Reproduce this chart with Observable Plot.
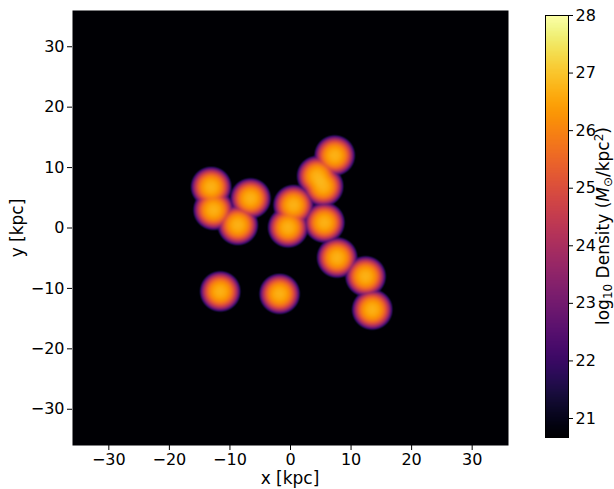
<!DOCTYPE html>
<html><head><meta charset="utf-8">
<script src="https://cdn.jsdelivr.net/npm/d3@7"></script>
<script src="https://cdn.jsdelivr.net/npm/@observablehq/plot@0.6"></script>
<style>
body{margin:0;background:#fff}
#wrap{position:relative;width:614px;height:489px;font-family:"DejaVu Sans",sans-serif}
#wrap > *{position:absolute;top:0}
</style>
</head><body><div id="wrap"></div>
<script>
// Blob (clump) centres, in kpc
const blobX = [-13.1, -12.7, -6.6, -8.7, 0.5, -0.4, 7.3, 4.4, 5.4, 5.6, 7.7, 12.4, 13.5, -11.6, -1.8];
const blobY = [6.8, 3.0, 4.9, 0.5, 3.8, 0.1, 12.0, 8.6, 6.9, 0.9, -4.9, -8.0, -13.5, -10.5, -10.9];
const blobPeak = [26.7, 26.7, 26.7, 26.7, 26.7, 26.7, 26.7, 26.7, 26.7, 26.7, 26.7, 26.7, 26.7, 26.7, 26.7];
const axisTicks = [-30, -20, -10, 0, 10, 20, 30];
const colorTicks = [21, 22, 23, 24, 25, 26, 27, 28];
const extent = [-36, 36];
const colorDomain = [20.67, 28];
const xLabel = "x [kpc]";
const yLabel = "y [kpc]";

const fmt = d => d < 0 ? "\u2212" + Math.abs(d) : String(d);

function logDensity(x, y) {
  let s = 0;
  for (let i = 0; i < blobX.length; i++) {
    const dx = x - blobX[i], dy = y - blobY[i];
    const r2 = dx * dx + dy * dy;
    const f = blobPeak[i] - 0.185 * r2 - 0.0263 * r2 * r2;
    s += Math.pow(10, f - 20);
  }
  return s > 0 ? Math.max(colorDomain[0], Math.log10(s) + 20) : colorDomain[0];
}

const colorScale = {type: "linear", scheme: "inferno", domain: colorDomain, clamp: true};
const baseStyle = {fontFamily: "DejaVu Sans", fontSize: "16px", background: "transparent", color: "black", overflow: "visible"};

const main = Plot.plot({
  width: 520, height: 489,
  marginLeft: 72, marginRight: 12, marginTop: 10, marginBottom: 44,
  style: baseStyle,
  x: {domain: extent, ticks: axisTicks, tickFormat: fmt, tickSize: 5, tickPadding: 3, label: null},
  y: {domain: extent, ticks: axisTicks, tickFormat: fmt, tickSize: 5, tickPadding: 3, label: null},
  color: colorScale,
  marks: [
    Plot.raster({fill: logDensity, x1: extent[0], x2: extent[1], y1: extent[0], y2: extent[1], pixelSize: 1})
  ]
});

const cbar = Plot.plot({
  width: 80, height: 489,
  marginLeft: 5, marginRight: 52, marginTop: 15, marginBottom: 52,
  style: baseStyle,
  x: {domain: [0, 1], axis: null},
  y: {domain: colorDomain, axis: "right", ticks: colorTicks, tickSize: 4, tickPadding: 3, label: null},
  color: colorScale,
  marks: [
    Plot.raster({fill: (x, y) => y, x1: 0, x2: 1, y1: colorDomain[0], y2: colorDomain[1], pixelSize: 1}),
    Plot.frame({stroke: "black", strokeWidth: 1})
  ]
});

const wrap = document.getElementById("wrap");
main.style.left = "0px";
cbar.style.left = "540px";
wrap.appendChild(main);
wrap.appendChild(cbar);

// axis titles and colorbar label
const svg = d3.select(wrap).append("svg")
  .attr("width", 614).attr("height", 489)
  .style("left", "0px").style("pointer-events", "none");
svg.append("text").attr("x", 290).attr("y", 484).attr("text-anchor", "middle")
  .attr("font-family", "DejaVu Sans").attr("font-size", 17).text(xLabel);
svg.append("text").attr("transform", "translate(23,228) rotate(-90)").attr("text-anchor", "middle")
  .attr("font-family", "DejaVu Sans").attr("font-size", 17).text(yLabel);
const t = svg.append("text")
  .attr("transform", "translate(609,226) rotate(-90)")
  .attr("text-anchor", "middle")
  .attr("font-family", "DejaVu Sans").attr("font-size", 17).attr("fill", "black");
t.append("tspan").text("log");
t.append("tspan").attr("dy", 3).attr("font-size", 12).text("10");
t.append("tspan").attr("dy", -3).text(" Density (");
t.append("tspan").attr("font-style", "italic").text("M");
t.append("tspan").attr("dy", 3).attr("font-size", 12).text("\u2299");
t.append("tspan").attr("dy", -3).text("/kpc");
t.append("tspan").attr("dy", -6).attr("font-size", 12).text("2");
t.append("tspan").attr("dy", 6).text(")");
</script>
</body></html>
